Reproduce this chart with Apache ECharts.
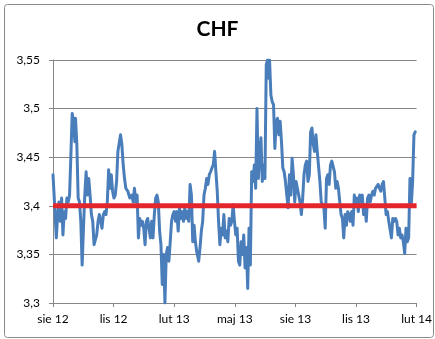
<!DOCTYPE html>
<html><head><meta charset="utf-8">
<script src="https://cdn.jsdelivr.net/npm/echarts@6/dist/echarts.min.js"></script>
<style>html,body{margin:0;padding:0;background:#fff}#c{width:435px;height:339px}</style>
</head><body><div id="c"></div>
<script>
// Title & tick labels
var titleText = "CHF";
var xTickLabels = ["sie 12", "lis 12", "lut 13", "maj 13", "sie 13", "lis 13", "lut 14"];
// Axis span in days from 1 Aug 2012 to 1 Feb 2014
var xSpanDays = 549;
// Days since 1 Aug 2012
var days = [
0,3,5,7,9,11,13,15,17,19,21,23,25,27,29,31,33,34,36,38,40,42,44,46,48,50,52,54,56,58,60,62,64,66,68,70,72,74,76,78,80,82,84,86,88,90,92,94,96,98,100,102,104,106,108,
110,113,116,119,121,123,125,127,129,131,133,135,137,139,141,143,145,147,149,151,153,155,157,159,161,163,165,167,169,171,173,175,177,179,181,183,185,187,189,191,193,195,197,199,201,203,205,207,209,211,213,215,217,
220,222,224,226,228,230,232,234,236,238,240,242,244,246,248,250,252,254,256,258,260,262,264,266,268,270,272,274,276,278,280,282,284,286,288,290,292,294,296,298,300,302,304,306,308,310,312,314,316,318,320,322,324,326,327,
329,331,333,335,337,339,341,343,345,347,349,351,353,355,357,359,361,363,365,367,369,371,373,375,377,379,381,383,385,387,389,391,393,395,397,399,401,403,405,407,409,411,413,415,417,419,421,423,425,427,429,431,433,435,437,
439,441,443,445,447,449,451,453,455,457,459,461,463,465,467,469,471,473,475,477,479,481,483,485,487,489,491,493,495,497,499,501,503,505,507,509,511,513,515,517,519,521,523,525,527,529,531,533,535,537,539,541,543,545,547
];
// CHF rate
var chfRate = [
3.432,3.394,3.367,3.391,3.404,3.384,3.408,3.370,3.394,3.387,3.408,3.404,3.411,3.452,3.495,3.487,3.466,3.490,3.463,3.408,3.404,3.384,3.339,3.377,3.411,3.435,3.411,3.428,3.411,3.391,3.384,3.360,3.358,3.370,3.384,3.391,3.384,3.377,3.391,3.394,3.391,3.404,3.437,3.418,3.432,3.415,3.408,3.411,3.425,3.456,3.456,3.473,3.463,3.442,3.428,
3.418,3.415,3.408,3.411,3.404,3.418,3.404,3.411,3.367,3.387,3.380,3.384,3.377,3.360,3.384,3.387,3.377,3.367,3.384,3.367,3.391,3.408,3.411,3.404,3.374,3.360,3.319,3.350,3.300,3.350,3.357,3.343,3.363,3.384,3.391,3.394,3.384,3.394,3.374,3.398,3.387,3.394,3.384,3.398,3.387,3.394,3.384,3.422,3.411,3.363,3.380,3.363,3.353,
3.343,3.357,3.374,3.384,3.411,3.418,3.428,3.422,3.432,3.435,3.439,3.442,3.456,3.435,3.415,3.384,3.360,3.377,3.370,3.391,3.367,3.374,3.363,3.387,3.380,3.384,3.401,3.384,3.370,3.377,3.343,3.339,3.363,3.350,3.370,3.336,3.357,3.315,3.377,3.339,3.435,3.425,3.442,3.418,3.500,3.428,3.452,3.470,3.425,3.442,3.428,3.545,3.550,3.531,3.550,
3.514,3.507,3.504,3.459,3.487,3.490,3.473,3.487,3.466,3.439,3.435,3.425,3.411,3.398,3.432,3.411,3.449,3.432,3.404,3.425,3.425,3.411,3.404,3.391,3.408,3.432,3.442,3.446,3.425,3.432,3.476,3.480,3.463,3.456,3.473,3.456,3.456,3.425,3.404,3.404,3.398,3.377,3.428,3.432,3.422,3.442,3.446,3.446,3.435,3.418,3.425,3.418,3.404,3.391,3.387,
3.367,3.391,3.380,3.394,3.391,3.384,3.394,3.380,3.411,3.401,3.408,3.394,3.411,3.404,3.411,3.391,3.401,3.384,3.408,3.411,3.404,3.411,3.415,3.411,3.418,3.418,3.422,3.418,3.415,3.422,3.425,3.427,3.391,3.394,3.384,3.384,3.367,3.387,3.384,3.387,3.384,3.370,3.377,3.367,3.370,3.363,3.351,3.377,3.363,3.367,3.428,3.401,3.425,3.473,3.476
];
// Reference level
var refLevel = 3.4;
var refDays = [0, 549];

var blueData = days.map(function (d, i) { return [d, chfRate[i]]; });
var redData = refDays.map(function (d) { return [d, refLevel]; });
var step = xSpanDays / (xTickLabels.length - 1);

var chart = echarts.init(document.getElementById('c'), null, {renderer: 'canvas'});
chart.setOption({
  animation: false,
  backgroundColor: '#fff',
  graphic: [{
    type: 'rect', left: 2, top: 2, shape: {width: 429, height: 333, r: 3},
    style: {fill: 'none', stroke: '#8a8a8a', lineWidth: 1}, z: -1
  }],
  title: {
    text: titleText, left: 'center', top: 14,
    textStyle: {fontFamily: 'Lato', fontWeight: 'bold', fontSize: 21, color: '#000'}
  },
  grid: {left: 53, right: 17, top: 60, bottom: 36},
  xAxis: {
    type: 'value', min: 0, max: xSpanDays, interval: step,
    axisLine: {show: true, lineStyle: {color: '#868686', width: 1}},
    axisTick: {show: true, inside: false, length: 4, lineStyle: {color: '#868686'}},
    splitLine: {show: false},
    axisLabel: {
      margin: 10, color: '#000', fontFamily: 'Lato', fontSize: 12,
      showMinLabel: true, showMaxLabel: true,
      formatter: function (v) { return xTickLabels[Math.round(v / step)] || ''; }
    }
  },
  yAxis: {
    type: 'value', min: 3.3, max: 3.55, interval: 0.05,
    axisLine: {show: true, lineStyle: {color: '#868686', width: 1}},
    axisTick: {show: true, inside: false, length: 4, lineStyle: {color: '#868686'}},
    splitLine: {show: true, lineStyle: {color: '#868686', width: 1}},
    axisLabel: {
      margin: 13, color: '#000', fontFamily: 'Lato', fontSize: 12,
      formatter: function (v) { return String(parseFloat(v.toFixed(2))).replace('.', ','); }
    }
  },
  series: [{
    type: 'line', data: blueData, showSymbol: false, symbol: 'none',
    lineStyle: {color: '#4a7ebb', width: 3, join: 'round', cap: 'round'}, z: 2
  }, {
    type: 'line', data: redData, showSymbol: false, symbol: 'none',
    lineStyle: {color: '#e3262c', width: 5}, z: 3
  }]
});
</script></body></html>
